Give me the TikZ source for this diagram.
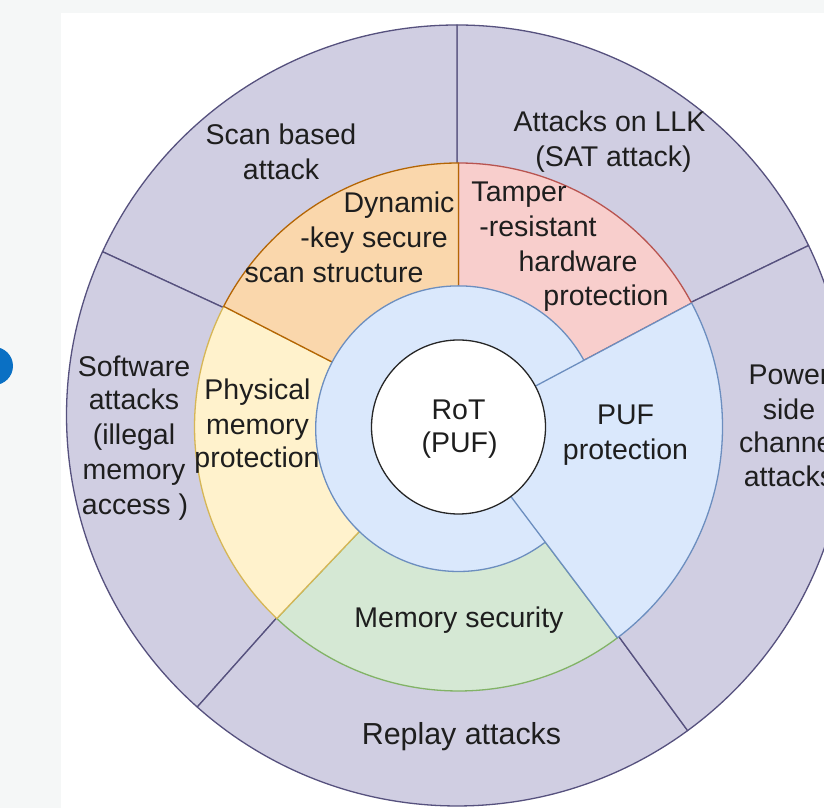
\documentclass[tikz,border=0pt]{standalone}
\usepackage{fontspec}
\setmainfont{Liberation Sans}
\definecolor{bggray}{HTML}{F5F7F7}
\definecolor{dotblue}{HTML}{0A70C4}
\definecolor{txt}{HTML}{1E1E1E}
\definecolor{purF}{HTML}{D0CEE2}\definecolor{purS}{HTML}{56517E}
\definecolor{orF}{HTML}{FAD7AC}\definecolor{orS}{HTML}{B46504}
\definecolor{pkF}{HTML}{F8CECC}\definecolor{pkS}{HTML}{B85450}
\definecolor{yeF}{HTML}{FFF2CC}\definecolor{yeS}{HTML}{D6B656}
\definecolor{grF}{HTML}{D5E8D4}\definecolor{grS}{HTML}{82B366}
\definecolor{blF}{HTML}{DAE8FC}\definecolor{blS}{HTML}{6C8EBF}
\begin{document}
\begin{tikzpicture}[x=1pt,y=1pt,line join=round,
  lab/.style={font=\fontsize{28.5}{34}\selectfont, text=txt, anchor=base, inner sep=0pt},
  ring/.style={line width=1.3pt}]
\useasboundingbox (0,0) rectangle (824,808);
\clip (0,0) rectangle (824,808);
\fill[bggray] (0,0) rectangle (824,808);
\fill[white] (61,0) rectangle (824,795);
\fill[dotblue] (-6,442) circle[radius=19];
\coordinate (O) at (457,392.5);
\coordinate (C) at (458.5,381);
% outer ring
\foreach \a/\b in {25.8/90, 90/155.2, 155.2/228.3, 228.3/306.2, 306.2/385.8}{
  \filldraw[ring,fill=purF,draw=purS] (O) -- ++(\a:390.5) arc[start angle=\a, end angle=\b, radius=390.5] -- cycle;
}
% middle ring
\filldraw[ring,fill=pkF,draw=pkS] (C) -- ++(28:264) arc[start angle=28, end angle=90, radius=264] -- cycle;
\filldraw[ring,fill=grF,draw=grS] (C) -- ++(226.5:264) arc[start angle=226.5, end angle=307, radius=264] -- cycle;
\filldraw[ring,fill=yeF,draw=yeS] (C) -- ++(152.8:264) arc[start angle=152.8, end angle=226.5, radius=264] -- cycle;
\filldraw[ring,fill=orF,draw=orS] (C) -- ++(90:264) arc[start angle=90, end angle=152.8, radius=264] -- cycle;
% inner ring
\filldraw[ring,fill=blF,draw=blS] (458.5,379.3) circle[radius=142.8];
% PUF wedge
\filldraw[ring,fill=blF,draw=blS] (C) -- ++(-53:264) arc[start angle=-53, end angle=28, radius=264] -- cycle;
% RoT
\filldraw[ring,fill=white,draw=black!85] (C) circle[radius=87];
% labels
\node[lab] (t1) at (281,663) {Scan based};
\node[lab] (t2) at (281,628) {attack};
\node[lab] (t3) at (609.5,676) {Attacks on LLK};
\node[lab] (t4) at (613.5,641) {(SAT attack)};
\node[lab] (t5) at (399,595) {Dynamic};
\node[lab] (t6) at (374,560) {-key secure};
\node[lab] (t7) at (334,525) {scan structure};
\node[lab] (t8) at (519,606) {Tamper};
\node[lab] (t9) at (538,571) {-resistant};
\node[lab] (t10) at (578,536) {hardware};
\node[lab] (t11) at (606,502) {protection};
\node[lab] (t12) at (134,431) {Software};
\node[lab] (t13) at (134,398) {attacks};
\node[lab] (t14) at (134,363) {(illegal};
\node[lab] (t15) at (134,328) {memory};
\node[lab] (t16) at (135,293) {access )};
\node[lab] (t17) at (257.5,408) {Physical};
\node[lab] (t18) at (257.5,373) {memory};
\node[lab] (t19) at (257,340) {protection};
\node[lab] (t20) at (458.5,388) {RoT};
\node[lab] (t21) at (459.5,355) {(PUF)};
\node[lab] (t22) at (625.5,383) {PUF};
\node[lab] (t23) at (625.5,348) {protection};
\node[lab] (t24) at (789,423) {Power};
\node[lab] (t25) at (789,388) {side};
\node[lab] (t26) at (789,355) {channel};
\node[lab] (t27) at (789,321) {attacks};
\node[lab] (t28) at (459,180) {Memory security};
\node[lab,font=\fontsize{30.4}{36}\selectfont] (t29) at (461.5,63) {Replay attacks};
\end{tikzpicture}
\end{document}
